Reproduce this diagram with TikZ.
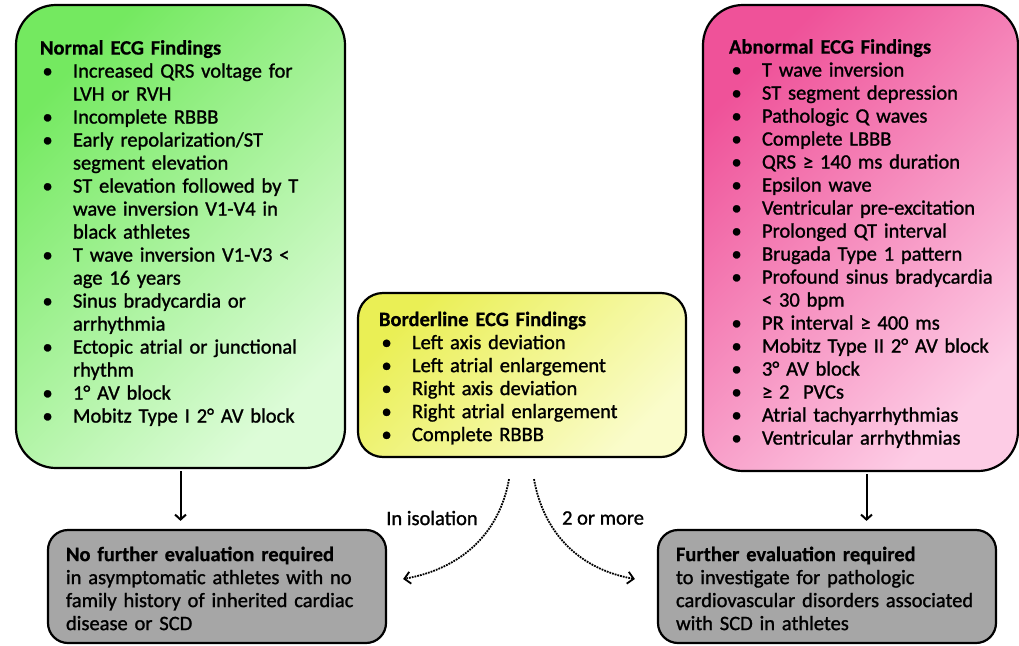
\documentclass[tikz,border=0pt]{standalone}
\usepackage{fontspec}
\setmainfont{Carlito}[UprightFeatures={FakeBold=1.2}, BoldFeatures={FakeBold=0.6}]
\usetikzlibrary{arrows.meta}

\definecolor{normaltop}{HTML}{74E960}
\definecolor{normalbot}{HTML}{DDFCD8}
\definecolor{bordertop}{HTML}{EAEF55}
\definecolor{borderbot}{HTML}{FAFCCB}
\definecolor{abnormtop}{HTML}{EF5299}
\definecolor{abnormbot}{HTML}{FDCCE5}
\definecolor{boxgray}{HTML}{A6A6A6}

\newcommand\ecgdot{\hspace*{2.5pt}\textbullet}

\tikzset{
  finding/.style={draw, line width=2.2pt, rounded corners=40pt, align=left, inner ysep=0pt},
  verdict/.style={draw, line width=2.2pt, rounded corners=20pt, fill=boxgray, align=left,
    inner xsep=18pt, inner ysep=0pt, text width=302pt, minimum width=338pt, minimum height=113pt},
  flow/.style={line width=2pt, -{Straight Barb[length=5pt,width=11pt]}},
  maybe/.style={line width=1.8pt, densely dotted, -{Straight Barb[length=6pt,width=12pt]}}
}

\begin{document}
\begin{tikzpicture}[x=1pt, y=-1pt, font=\fontsize{20.5}{23}\selectfont]
\useasboundingbox (0,0) rectangle (1019,645);

\node[finding, top color=normaltop, bottom color=normalbot, shading angle=45,
  inner xsep=24pt, text width=281pt, minimum width=329pt, minimum height=463pt]
  (normal) at (180.5,236.5) {\vspace*{-6pt}\par
\begin{tabular}{@{}p{33pt}@{}l@{}}
\multicolumn{2}{@{}l@{}}{\bfseries Normal ECG Findings}\\
\ecgdot & Increased QRS voltage for\\
 & LVH or RVH\\
\ecgdot & Incomplete RBBB\\
\ecgdot & Early repolarization/ST\\
 & segment elevation\\
\ecgdot & ST elevation followed by T\\
 & wave inversion V1-V4 in\\
 & black athletes\\
\ecgdot & T wave inversion V1-V3 <\\
 & age 16 years\\
\ecgdot & Sinus bradycardia or\\
 & arrhythmia\\
\ecgdot & Ectopic atrial or junctional\\
 & rhythm\\
\ecgdot & 1° AV block\\
\ecgdot & Mobitz Type I 2° AV block
\end{tabular}};

\node[finding, rounded corners=25pt, top color=bordertop, bottom color=borderbot, shading angle=45,
  inner xsep=21pt, text width=286pt, minimum width=328pt, minimum height=164pt]
  (border) at (522,375) {\vspace*{7pt}\par
\begin{tabular}{@{}p{33pt}@{}l@{}}
\multicolumn{2}{@{}l@{}}{\bfseries Borderline ECG Findings}\\
\ecgdot & Left axis deviation\\
\ecgdot & Left atrial enlargement\\
\ecgdot & Right axis deviation\\
\ecgdot & Right atrial enlargement\\
\ecgdot & Complete RBBB
\end{tabular}};

\node[finding, top color=abnormtop, bottom color=abnormbot, shading angle=45,
  inner xsep=26pt, text width=263pt, minimum width=315pt, minimum height=466pt]
  (abnormal) at (860.5,238) {\vspace*{12pt}\par
\begin{tabular}{@{}p{33pt}@{}l@{}}
\multicolumn{2}{@{}l@{}}{\bfseries Abnormal ECG Findings}\\
\ecgdot & T wave inversion\\
\ecgdot & ST segment depression\\
\ecgdot & Pathologic Q waves\\
\ecgdot & Complete LBBB\\
\ecgdot & QRS ≥ 140 ms duration\\
\ecgdot & Epsilon wave\\
\ecgdot & Ventricular pre-excitation\\
\ecgdot & Prolonged QT interval\\
\ecgdot & Brugada Type 1 pattern\\
\ecgdot & Profound sinus bradycardia\\
 & < 30 bpm\\
\ecgdot & PR interval ≥ 400 ms\\
\ecgdot & Mobitz Type II 2° AV block\\
\ecgdot & 3° AV block\\
\ecgdot & ≥ 2~ PVCs\\
\ecgdot & Atrial tachyarrhythmias\\
\ecgdot & Ventricular arrhythmias
\end{tabular}};

\node[verdict] (nofurther) at (217,586.5) {\vspace*{8pt}\par
\begin{tabular}{@{}l@{}}
\bfseries No further evaluation required\\
in asymptomatic athletes with no\\
family history of inherited cardiac\\
disease or SCD
\end{tabular}};

\node[verdict] (further) at (827,586.5) {\vspace*{8pt}\par
\begin{tabular}{@{}l@{}}
\bfseries Further evaluation required\\
to investigate for pathologic\\
cardiovascular disorders associated\\
with SCD in athletes
\end{tabular}};

\coordinate (abfoot) at ([xshift=6pt]abnormal.south);
\draw[flow, shorten <=2pt, shorten >=8pt] (normal.south) -- (normal.south |- nofurther.north);
\draw[flow, shorten <=2pt, shorten >=8pt] (abfoot) -- (abfoot |- further.north);

\draw[maybe] ([xshift=-13pt,yshift=-21pt]border.south) to[out=-100,in=10] ([xshift=16pt,yshift=7.5pt]nofurther.east);
\draw[maybe] ([xshift=12pt,yshift=-21pt]border.south) to[out=-80,in=170] ([xshift=-22pt,yshift=7.5pt]further.west);

\node (isolation) at (432,518) {In isolation};
\node (twomore) at (603,518) {2 or more};
\end{tikzpicture}
\end{document}
